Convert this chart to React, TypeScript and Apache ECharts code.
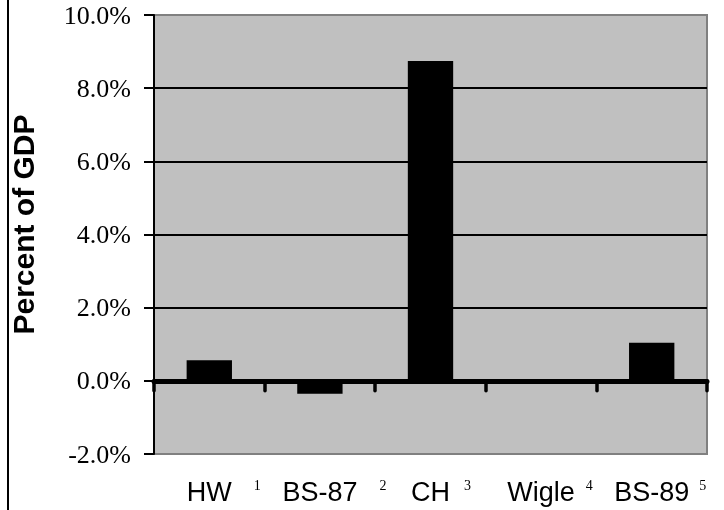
import React, { useEffect, useRef } from "react";
import * as echarts from "echarts";

const CATEGORIES = ["HW", "BS-87", "CH", "Wigle", "BS-89"];
const NOTE_MARKS = ["1", "2", "3", "4", "5"];
const VALUES = [0.56, -0.35, 8.74, 0.0, 1.04];
const Y_MIN = -2;
const Y_MAX = 10;
const Y_STEP = 2;
const Y_TITLE = "Percent of GDP";

// style only: horizontal gap (px) between each label and its note mark
const NOTE_GAP = [22, 22, 14, 11, 10];

export default function App() {
  const ref = useRef<HTMLDivElement>(null);

  useEffect(() => {
    if (!ref.current) return;
    const chart = echarts.init(ref.current, null, { renderer: "svg" });

    const rich: Record<string, any> = {};
    NOTE_GAP.forEach((g, i) => {
      rich["a" + i] = {
        fontFamily: "Liberation Sans",
        fontSize: 27,
        lineHeight: 30,
        color: "#000",
        padding: [0, 0, 0, g + 7],
      };
      rich["s" + i] = {
        fontFamily: "Liberation Serif",
        fontSize: 14,
        lineHeight: 14,
        color: "#000",
        verticalAlign: "top",
        padding: [1, 0, 0, g],
      };
    });

    chart.setOption({
      animation: false,
      graphic: [
        {
          type: "line",
          shape: { x1: 8, y1: 0, x2: 8, y2: 510 },
          style: { stroke: "#000", lineWidth: 2 },
        },
      ],
      grid: {
        left: 154,
        right: 17,
        top: 15,
        bottom: 56,
        containLabel: false,
        outerBoundsMode: "none",
        show: true,
        backgroundColor: "#c0c0c0",
        borderColor: "#808080",
        borderWidth: 2,
      },
      xAxis: {
        type: "category",
        data: CATEGORIES,
        axisLine: {
          show: true,
          onZero: true,
          lineStyle: { color: "#000", width: 5 },
        },
        axisTick: {
          show: true,
          interval: 0,
          length: 10,
          lineStyle: { color: "#000", width: 3.5, cap: "round" },
        },
        axisLabel: {
          interval: 0,
          margin: 23,
          formatter: (v: string, i: number) =>
            `{a${i}|${v}}{s${i}|${NOTE_MARKS[i]}}`,
          rich,
        },
        splitLine: { show: false },
      },
      yAxis: {
        type: "value",
        min: Y_MIN,
        max: Y_MAX,
        interval: Y_STEP,
        name: Y_TITLE,
        nameLocation: "middle",
        nameRotate: 90,
        nameGap: 116,
        nameTextStyle: {
          fontFamily: "Liberation Sans",
          fontWeight: "bold",
          fontSize: 30,
          color: "#000",
          padding: [0, 0, 0, 20],
        },
        axisLine: { show: true, lineStyle: { color: "#000", width: 2 } },
        axisTick: {
          show: true,
          inside: false,
          length: 10,
          lineStyle: { color: "#000", width: 2 },
        },
        axisLabel: {
          margin: 23,
          fontFamily: "Liberation Serif",
          fontSize: 26,
          color: "#000",
          formatter: (v: number) => v.toFixed(1) + "%",
        },
        splitLine: {
          show: true,
          showMinLine: false,
          showMaxLine: false,
          lineStyle: { color: "#000", width: 2 },
        },
      },
      series: [
        {
          type: "bar",
          data: VALUES,
          barWidth: "41%",
          itemStyle: { color: "#000" },
        },
      ],
    });

    return () => chart.dispose();
  }, []);

  return (
    <div
      ref={ref}
      style={{ position: "fixed", left: 0, top: 0, width: 724, height: 510 }}
    />
  );
}
